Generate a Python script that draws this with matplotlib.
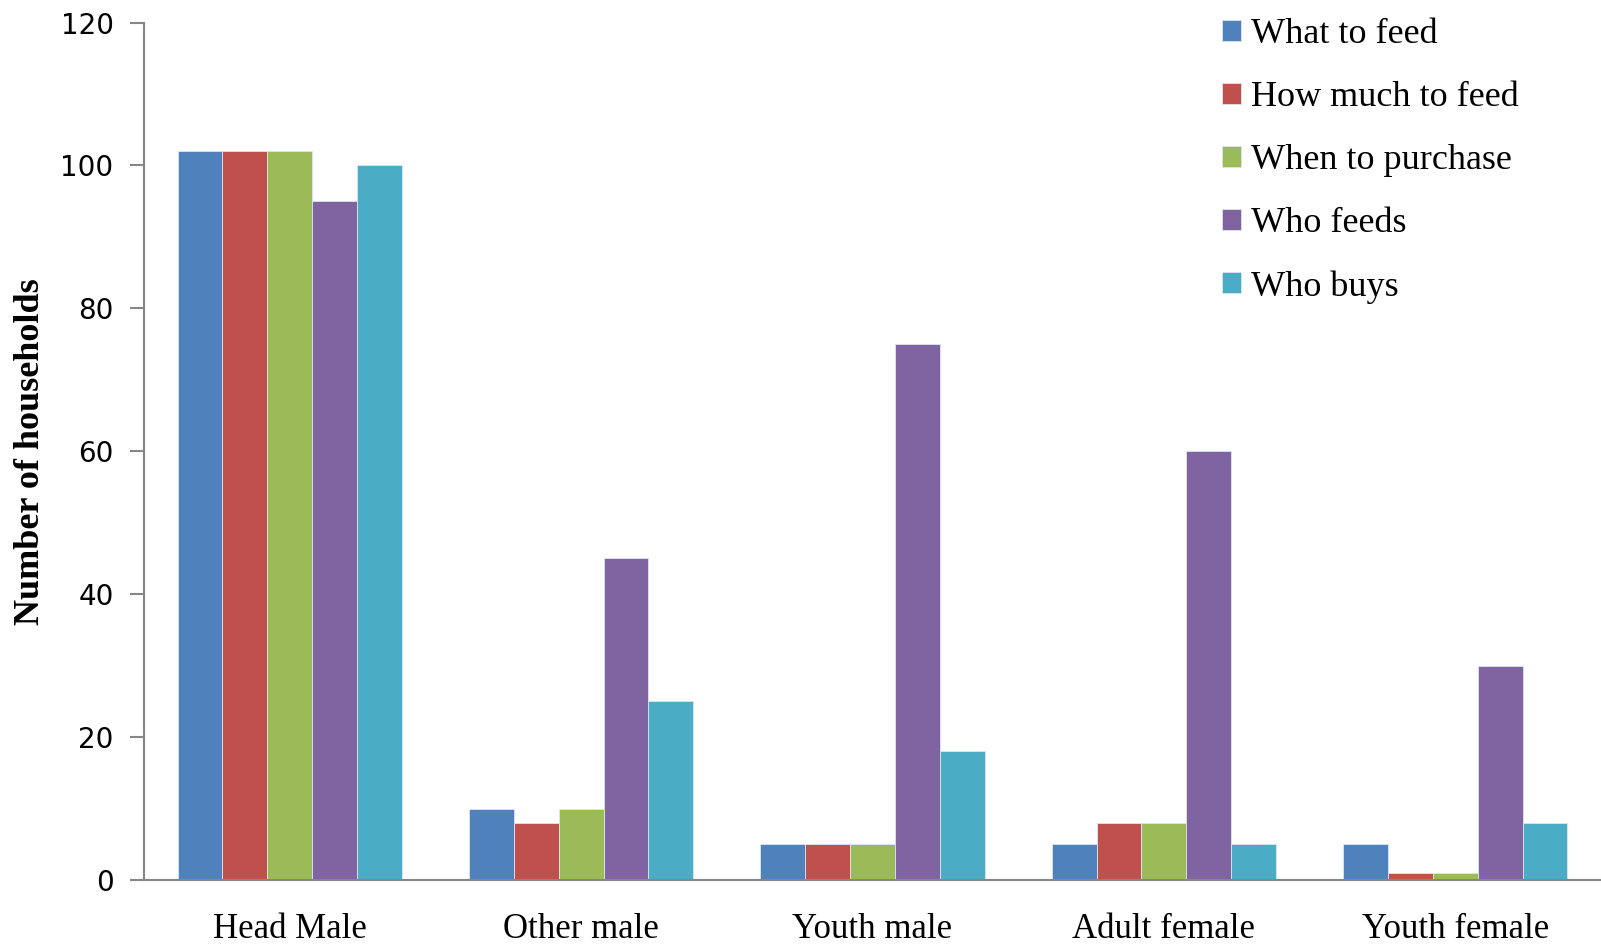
import numpy as np
import matplotlib
matplotlib.use('Agg')
import matplotlib.pyplot as plt

# Data
categories = ['Head Male', 'Other male', 'Youth male', 'Adult female', 'Youth female']
series_names = ['What to feed', 'How much to feed', 'When to purchase', 'Who feeds', 'Who buys']
what_to_feed = [102, 10, 5, 5, 5]
how_much_to_feed = [102, 8, 5, 8, 1]
when_to_purchase = [102, 10, 5, 8, 1]
who_feeds = [95, 45, 75, 60, 30]
who_buys = [100, 25, 18, 5, 8]
y_ticks = [0, 20, 40, 60, 80, 100, 120]

colors = ['#4F81BD', '#C0504D', '#9BBB59', '#8064A2', '#4BACC6']
series = [what_to_feed, how_much_to_feed, when_to_purchase, who_feeds, who_buys]

fig = plt.figure(figsize=(16.01, 9.5), dpi=100)
ax = fig.add_axes([0.09, 0.0737, 0.91, 0.9026])

x = np.arange(len(categories))
bar_w = 0.154
for i, (vals, name, col) in enumerate(zip(series, series_names, colors)):
    ax.bar(x + (i - 2) * bar_w, vals, width=bar_w, color=col, label=name,
           edgecolor='#dde6f0', linewidth=0.6)

ax.set_xlim(-0.5, 4.5)
ax.set_ylim(0, 120)
ax.set_yticks(y_ticks)
ax.set_yticklabels([str(t) for t in y_ticks], family='DejaVu Sans', fontsize=20)
ax.set_xticks(x)
ax.set_xticklabels(categories, family='Liberation Serif', fontsize=25)
ax.tick_params(axis='x', length=0, pad=24)
ax.tick_params(axis='y', length=10, width=1.5, color='#868686', pad=12)

for side in ['top', 'right']:
    ax.spines[side].set_visible(False)
for side in ['left', 'bottom']:
    ax.spines[side].set_color('#868686')
    ax.spines[side].set_linewidth(1.5)

ax.set_ylabel('Number of households', family='Liberation Serif', fontweight='bold',
              fontsize=26, labelpad=10)

fig.legend(loc='upper left', bbox_to_anchor=(0.743, 1.015), frameon=False,
           prop={'family': 'Liberation Serif', 'size': 26},
           handlelength=0.52, handleheight=0.52, handletextpad=0.28, labelspacing=0.83)

fig.savefig('out.png', dpi=100)
